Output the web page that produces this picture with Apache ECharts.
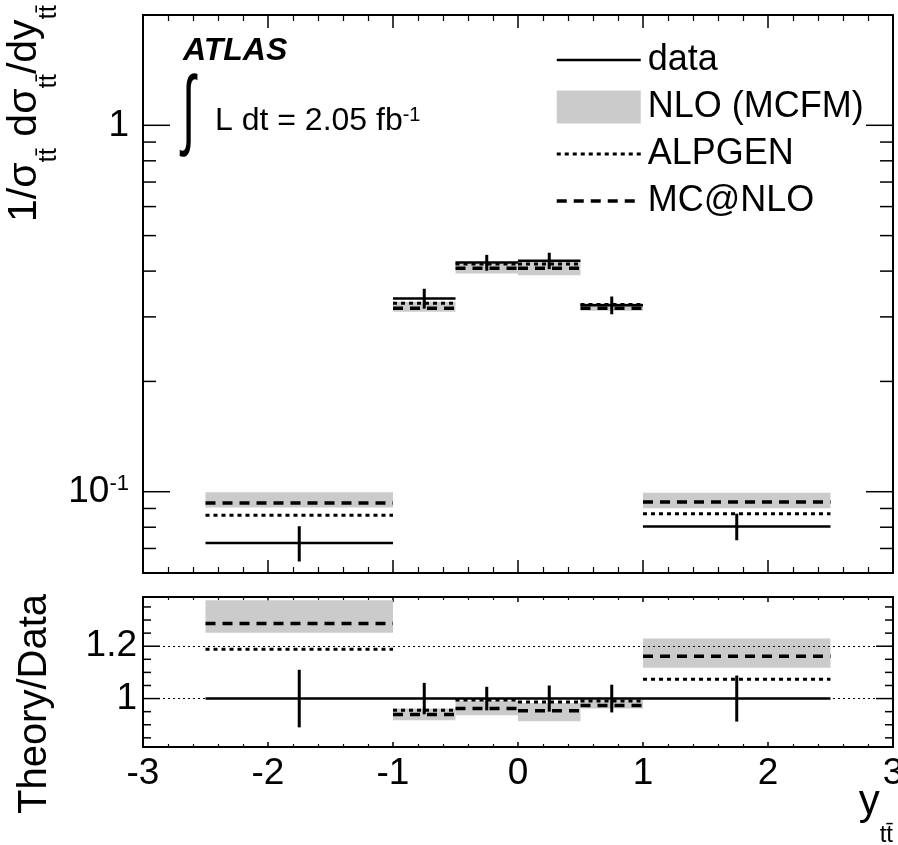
<!DOCTYPE html>
<html><head><meta charset="utf-8">
<script src="https://cdn.jsdelivr.net/npm/echarts@6/dist/echarts.min.js"></script>
<style>html,body{margin:0;padding:0;background:#fff}#c{width:898px;height:845px}</style>
</head><body><div id="c"></div>
<script>
// ---- data ----
const binEdges = [-2.5, -1, -0.5, 0, 0.5, 1, 2.5];
// top panel: 1/sigma dsigma/dy
const dataVal  = [0.0725, 0.337, 0.422, 0.427, 0.323, 0.0804];
const dataErr  = [0.0080, 0.021, 0.021, 0.022, 0.018, 0.0067];
const alpgen   = [0.0862, 0.327, 0.418, 0.418, 0.3245, 0.0870];
const mcnlo    = [0.0931, 0.3166, 0.407, 0.407, 0.3166, 0.0938];
const nloLo    = [0.0906, 0.310, 0.394, 0.390, 0.312, 0.0901];
const nloHi    = [0.0996, 0.330, 0.418, 0.424, 0.327, 0.0994];
// bottom panel: Theory/Data
const ratioData   = [1, 1, 1, 1, 1, 1];
const ratioErr    = [0.11, 0.06, 0.045, 0.05, 0.053, 0.088];
const ratioAlpgen = [1.188, 0.955, 0.995, 0.987, 0.991, 1.074];
const ratioMcnlo  = [1.287, 0.939, 0.962, 0.953, 0.974, 1.162];
const ratioNloLo  = [1.251, 0.917, 0.936, 0.913, 0.962, 1.118];
const ratioNloHi  = [1.376, 0.962, 0.991, 0.983, 0.996, 1.229];
const ratioRefLines = [1, 1.2];
// axes / ticks
const xTickLabels = [-3, -2, -1, 0, 1, 2, 3];
const topMajorTicks = [0.1, 1];
const topMinorTicks = [0.07, 0.08, 0.09, 0.2, 0.3, 0.4, 0.5, 0.6, 0.7, 0.8, 0.9];
const ratioMajorTicks = [1, 1.2];
const ratioMinorTicks = [0.85, 0.9, 0.95, 1.05, 1.1, 1.15, 1.25, 1.3, 1.35];

const X_MIN = xTickLabels[0], X_MAX = xTickLabels[xTickLabels.length - 1];
const FONT = '"Liberation Sans", Arial, Helvetica, sans-serif';
const BAND = '#cbcbcb';
const DOT = [4, 4], DASH = [10, 7];

function steps(vals) {
  const out = [];
  vals.forEach((v, i) => { out.push([binEdges[i], v]); out.push([binEdges[i + 1], v]); out.push([binEdges[i + 1], '-']); });
  return out;
}
function bands(lo, hi) { return lo.map((l, i) => [binEdges[i], binEdges[i + 1], l, hi[i]]); }
function errs(vals, e) { return vals.map((v, i) => [(binEdges[i] + binEdges[i + 1]) / 2, v - e[i], v + e[i]]); }

function bandItem(params, api) {
  const p1 = api.coord([api.value(0), api.value(3)]);
  const p2 = api.coord([api.value(1), api.value(2)]);
  return { type: 'rect', shape: { x: p1[0], y: p1[1], width: p2[0] - p1[0], height: p2[1] - p1[1] }, style: { fill: BAND } };
}
function errItem(params, api) {
  const a = api.coord([api.value(0), api.value(1)]);
  const b = api.coord([api.value(0), api.value(2)]);
  return { type: 'line', shape: { x1: a[0], y1: a[1], x2: b[0], y2: b[1] }, style: { stroke: '#000', lineWidth: 3 } };
}
function tickItem(params, api) {
  const v = api.value(1), len = api.value(2);
  const l = api.coord([X_MIN, v]), r = api.coord([X_MAX, v]);
  return { type: 'group', children: [
    { type: 'line', shape: { x1: l[0], y1: l[1], x2: l[0] + len, y2: l[1] }, style: { stroke: '#000', lineWidth: 1.5 } },
    { type: 'line', shape: { x1: r[0] - len, y1: r[1], x2: r[0], y2: r[1] }, style: { stroke: '#000', lineWidth: 1.5 } }
  ] };
}
function tickData(major, minor, lmaj, lmin) {
  return major.map(v => [X_MIN, v, lmaj]).concat(minor.map(v => [X_MIN, v, lmin]));
}

const axisLine = { show: true, onZero: false, lineStyle: { color: '#000', width: 2 } };
function xAx(grid, pos, labels, maj, min) {
  return {
    type: 'value', gridIndex: grid, position: pos, min: X_MIN, max: X_MAX, interval: 1,
    axisLine: axisLine, splitLine: { show: false }, minorSplitLine: { show: false },
    axisTick: { show: true, inside: true, length: maj, lineStyle: { color: '#000', width: 1.5 } },
    minorTick: { show: true, splitNumber: 5, length: min, lineStyle: { color: '#000', width: 1.2 } },
    axisLabel: labels ? { show: true, fontSize: 37, fontFamily: FONT, color: '#000', margin: 8,
      formatter: v => String(v) } : { show: false }
  };
}

const chart = echarts.init(document.getElementById('c'), null, { renderer: 'canvas' });
const option = {
  animation: false,
  backgroundColor: '#fff',
  grid: [
    { left: 143, top: 15, width: 750, height: 558, outerBoundsMode: 'none', containLabel: false },
    { left: 143, top: 597, width: 750, height: 150, outerBoundsMode: 'none', containLabel: false }
  ],
  xAxis: [
    xAx(0, 'bottom', false, 13, 6), xAx(0, 'top', false, 13, 6),
    xAx(1, 'bottom', true, 5, 3), xAx(1, 'top', false, 5, 3)
  ],
  yAxis: [
    { type: 'log', logBase: 10, gridIndex: 0, position: 'left', min: 0.06, max: 2,
      axisLine: axisLine, axisTick: { show: false }, splitLine: { show: false }, minorTick: { show: false },
      axisLabel: { show: true, margin: 14, showMinLabel: false, showMaxLabel: false,
        formatter: v => Math.abs(v - 1) < 1e-6 ? '{m|1}' : (Math.abs(v - 0.1) < 1e-7 ? '{m|10}{s|-1}' : ''),
        rich: {
          m: { fontSize: 37, fontFamily: FONT, color: '#000', lineHeight: 37, padding: [10, 0, 0, 0], verticalAlign: 'bottom' },
          s: { fontSize: 22, fontFamily: FONT, color: '#000', lineHeight: 22, verticalAlign: 'top' }
        } } },
    { type: 'log', logBase: 10, gridIndex: 0, position: 'right', min: 0.06, max: 2,
      axisLine: axisLine, axisTick: { show: false }, splitLine: { show: false }, minorTick: { show: false }, axisLabel: { show: false } },
    { type: 'value', gridIndex: 1, position: 'left', min: 0.815, max: 1.388,
      axisLine: axisLine, axisTick: { show: false }, splitLine: { show: false }, minorTick: { show: false },
      axisLabel: { show: true, customValues: ratioMajorTicks, margin: 6, fontSize: 37, fontFamily: FONT, color: '#000',
        formatter: v => String(+(+v).toFixed(2)) } },
    { type: 'value', gridIndex: 1, position: 'right', min: 0.815, max: 1.388,
      axisLine: axisLine, axisTick: { show: false }, splitLine: { show: false }, minorTick: { show: false }, axisLabel: { show: false } }
  ],
  legend: {
    orient: 'vertical', left: 550, top: 37, itemWidth: 84, itemHeight: 33, itemGap: 11, selectedMode: false,
    itemStyle: { opacity: 0 },
    textStyle: { fontSize: 36, fontFamily: FONT, color: '#000', padding: [0, 0, 0, 2] },
    data: [
      { name: 'data', lineStyle: { width: 2.5, color: '#000', type: 'solid' } },
      { name: 'NLO (MCFM)', icon: 'rect', itemStyle: { color: BAND, opacity: 1 } },
      { name: 'ALPGEN', lineStyle: { width: 3, color: '#000', type: DOT } },
      { name: 'MC@NLO', lineStyle: { width: 3.5, color: '#000', type: DASH } }
    ]
  },
  graphic: [
    { type: 'text', x: 183, y: 51, style: { text: 'ATLAS', font: 'italic bold 32px "Liberation Sans", Arial, sans-serif', fill: '#000', verticalAlign: 'middle' } },
    { type: 'text', x: 182, y: 114, scaleX: 0.6, scaleY: 1.1, style: { text: '∫', font: '80px "Liberation Sans", Arial, sans-serif', fill: '#000', verticalAlign: 'middle' } },
    { type: 'text', x: 215, y: 105, style: { text: '{m|L dt = 2.05 fb}{s|-1}', verticalAlign: 'top',
      rich: { m: { fontSize: 32, fontFamily: FONT, fill: '#000', lineHeight: 32, verticalAlign: 'bottom' },
              s: { fontSize: 20, fontFamily: FONT, fill: '#000', lineHeight: 20, verticalAlign: 'top' } } } },
    { type: 'text', x: 4, y: 222, rotation: Math.PI / 2, style: { text: '{m|1/σ}{s|tt̄}{m| dσ}{s|tt̄}{m|/dy}{s|tt̄}', align: 'left', verticalAlign: 'top',
      rich: { m: { fontSize: 41, fontFamily: FONT, fill: '#000', lineHeight: 41, verticalAlign: 'top' },
              s: { fontSize: 26, fontFamily: FONT, fill: '#000', lineHeight: 58, verticalAlign: 'bottom' } } } },
    { type: 'text', x: 35, y: 704, rotation: Math.PI / 2, style: { text: 'Theory/Data', font: '40px "Liberation Sans", Arial, sans-serif', fill: '#000', align: 'center', verticalAlign: 'middle' } },
    { type: 'text', x: 893, y: 781, style: { text: '{m|y}{s|tt̄}', align: 'right', verticalAlign: 'top',
      rich: { m: { fontSize: 42, fontFamily: FONT, fill: '#000', lineHeight: 42, verticalAlign: 'top' },
              s: { fontSize: 24, fontFamily: FONT, fill: '#000', lineHeight: 66, verticalAlign: 'bottom' } } } }
  ],
  series: [
    // ---- top panel ----
    { name: 'NLO (MCFM)', type: 'custom', xAxisIndex: 0, yAxisIndex: 0, renderItem: bandItem, itemStyle: { color: BAND },
      encode: { x: [0, 1], y: [2, 3] }, data: bands(nloLo, nloHi), z: 1 },
    { name: 'ALPGEN', type: 'line', xAxisIndex: 0, yAxisIndex: 0, symbol: 'none', connectNulls: false, data: steps(alpgen),
      lineStyle: { color: '#000', width: 3, type: DOT }, itemStyle: { color: '#000' }, z: 2 },
    { name: 'MC@NLO', type: 'line', xAxisIndex: 0, yAxisIndex: 0, symbol: 'none', connectNulls: false, data: steps(mcnlo),
      lineStyle: { color: '#000', width: 3.5, type: DASH }, itemStyle: { color: '#000' }, z: 3 },
    { name: 'data', type: 'line', xAxisIndex: 0, yAxisIndex: 0, symbol: 'none', connectNulls: false, data: steps(dataVal),
      lineStyle: { color: '#000', width: 2.5, type: 'solid' }, itemStyle: { color: '#000' }, z: 4 },
    { name: 'dataErr', type: 'custom', xAxisIndex: 0, yAxisIndex: 0, renderItem: errItem, encode: { x: 0, y: [1, 2] },
      data: errs(dataVal, dataErr), z: 5 },
    { name: 'ticksTop', type: 'custom', xAxisIndex: 0, yAxisIndex: 0, renderItem: tickItem, encode: { x: 0, y: 1 },
      data: tickData(topMajorTicks, topMinorTicks, 27, 13), z: 6, silent: true },
    // ---- ratio panel ----
    { name: 'NLO (MCFM)', type: 'custom', xAxisIndex: 2, yAxisIndex: 2, renderItem: bandItem, itemStyle: { color: BAND },
      encode: { x: [0, 1], y: [2, 3] }, data: bands(ratioNloLo, ratioNloHi), z: 1,
      markLine: { silent: true, symbol: 'none', label: { show: false },
        lineStyle: { color: '#000', width: 1, type: [2, 3] }, data: ratioRefLines.map(v => ({ yAxis: v })) } },
    { name: 'ALPGEN', type: 'line', xAxisIndex: 2, yAxisIndex: 2, symbol: 'none', connectNulls: false, data: steps(ratioAlpgen),
      lineStyle: { color: '#000', width: 3, type: DOT }, itemStyle: { color: '#000' }, z: 2 },
    { name: 'MC@NLO', type: 'line', xAxisIndex: 2, yAxisIndex: 2, symbol: 'none', connectNulls: false, data: steps(ratioMcnlo),
      lineStyle: { color: '#000', width: 3.5, type: DASH }, itemStyle: { color: '#000' }, z: 3 },
    { name: 'data', type: 'line', xAxisIndex: 2, yAxisIndex: 2, symbol: 'none', connectNulls: false, data: steps(ratioData),
      lineStyle: { color: '#000', width: 2.5, type: 'solid' }, itemStyle: { color: '#000' }, z: 4 },
    { name: 'ratioErr', type: 'custom', xAxisIndex: 2, yAxisIndex: 2, renderItem: errItem, encode: { x: 0, y: [1, 2] },
      data: errs(ratioData, ratioErr), z: 5 },
    { name: 'ticksRatio', type: 'custom', xAxisIndex: 2, yAxisIndex: 2, renderItem: tickItem, encode: { x: 0, y: 1 },
      data: tickData(ratioMajorTicks, ratioMinorTicks, 17, 8), z: 6, silent: true }
  ]
};
chart.setOption(option);
</script>
</body></html>
